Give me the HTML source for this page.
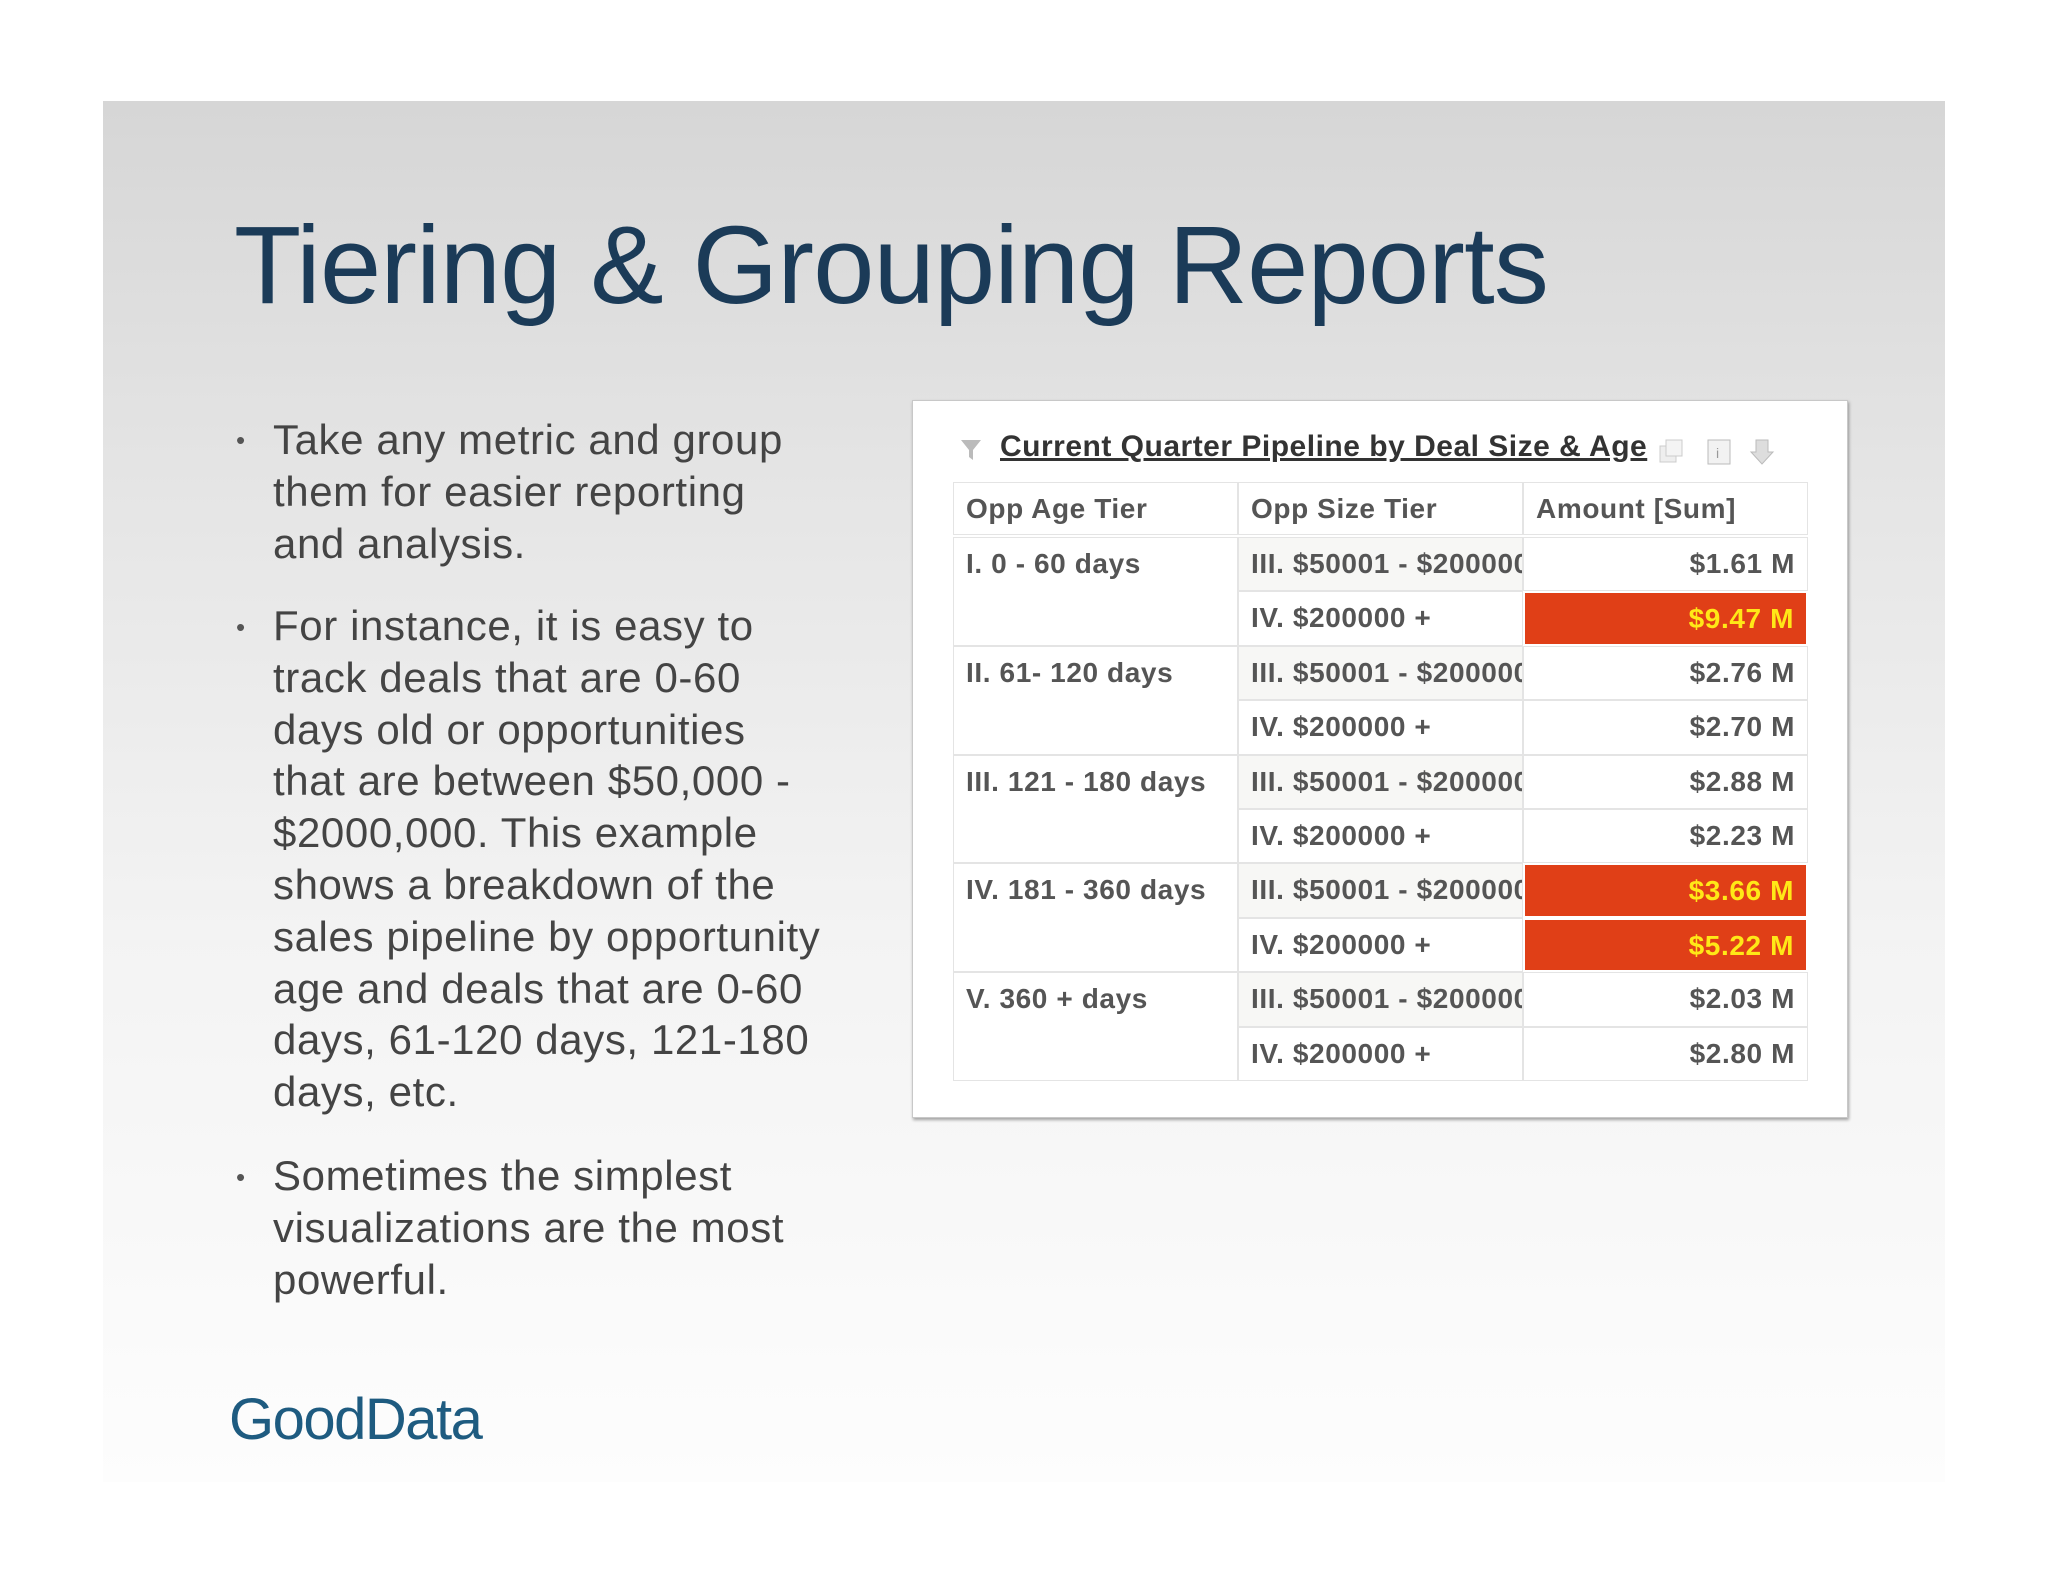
<!DOCTYPE html>
<html><head><meta charset="utf-8"><style>
body{margin:0;width:2048px;height:1582px;background:#fff;position:relative;overflow:hidden;font-family:"Liberation Sans",sans-serif}
#panel{position:absolute;left:103px;top:101px;width:1842px;height:1381px;background:linear-gradient(#d6d6d6 0%,#e6e6e6 30%,#f3f3f3 60%,#fdfdfd 100%)}
#title{position:absolute;left:234px;top:202px;font-size:110px;color:#1b3b58;white-space:nowrap;letter-spacing:-0.8px}
.bl{position:absolute;left:273px;font-size:42px;line-height:51.8px;color:#444;white-space:nowrap;letter-spacing:0.6px}
.dot{position:absolute;left:236px;font-size:26px;color:#555}
#card{position:absolute;left:912px;top:400px;width:934px;height:716px;background:#fff;border:1px solid #c8c8c8;box-shadow:1px 2px 3px rgba(0,0,0,.35)}
#rtitle{position:absolute;left:1000px;top:430px;font-size:30px;letter-spacing:0.5px;color:#333;text-decoration:underline;white-space:nowrap;font-weight:bold}
.cell{position:absolute;box-sizing:border-box;border:1px solid #e4e4e4;font-size:28px;letter-spacing:0.6px;font-weight:bold;color:#555;overflow:hidden;white-space:nowrap;padding:10px 12px 0 12px}
#logo{position:absolute;left:229px;top:1386px;font-size:58px;color:#1e5b80;letter-spacing:-1.5px}
</style></head><body>
<div id="panel"></div>
<div id="title">Tiering &amp; Grouping Reports</div>

<div class="dot" style="top:425px">•</div>
<div class="bl" style="top:414px">Take any metric and group<br>them for easier reporting<br>and analysis.</div>
<div class="dot" style="top:612px">•</div>
<div class="bl" style="top:600px">For instance, it is easy to<br>track deals that are 0-60<br>days old or opportunities<br>that are between $50,000 -<br>$2000,000. This example<br>shows a breakdown of the<br>sales pipeline by opportunity<br>age and deals that are 0-60<br>days, 61-120 days, 121-180<br>days, etc.</div>
<div class="dot" style="top:1162px">•</div>
<div class="bl" style="top:1150px">Sometimes the simplest<br>visualizations are the most<br>powerful.</div>

<div id="card"></div>
<svg style="position:absolute;left:960px;top:438px" width="22" height="24"><path d="M1 2h20l-8 10v10l-4-3v-7z" fill="#bbb"/></svg>
<div id="rtitle">Current Quarter Pipeline by Deal Size &amp; Age</div>
<svg style="position:absolute;left:1658px;top:436px" width="120" height="32">
<rect x="2" y="10" width="16" height="16" fill="#eee" stroke="#ccc"/><rect x="8" y="4" width="16" height="16" fill="#f4f4f4" stroke="#ccc"/>
<rect x="50" y="4" width="22" height="24" fill="#f2f2f2" stroke="#bbb"/><text x="58" y="22" font-size="14" fill="#999">i</text>
<path d="M98 4h12v12h5l-11 12-11-12h5z" fill="#ddd" stroke="#bbb"/></svg>

<div id="tbl"></div>
<div id="logo">GoodData</div>
<script>
const ageTiers=["I. 0 - 60 days","II. 61- 120 days","III. 121 - 180 days","IV. 181 - 360 days","V. 360 + days"];
const sizeTiers=["III. $50001 - $200000","IV. $200000 +"];
const amounts=[1.61,9.47,2.76,2.70,2.88,2.23,3.66,5.22,2.03,2.80];
const highlight=[false,true,false,false,false,false,true,true,false,false];
const headers=["Opp Age Tier","Opp Size Tier","Amount [Sum]"];
const T=document.getElementById('tbl');
const colX=[953,1238,1523,1808], top0=482, hH=53, rH=54.4;
function cell(x,y,w,h,txt,name,extra){
  const d=document.createElement('div');
  d.className='cell';
  d.style.cssText=`left:${x}px;top:${y}px;width:${w}px;height:${h}px;`+(extra||'');
  d.textContent=txt;
  
  
  T.appendChild(d);return d;
}
headers.forEach((h,i)=>cell(colX[i],top0,colX[i+1]-colX[i],hH,h,'column-header'));
const body0=top0+hH+2;
ageTiers.forEach((a,g)=>{
  cell(colX[0],body0+g*2*rH,colX[1]-colX[0],2*rH,a,'age-tier-cell');
});
amounts.forEach((v,r)=>{
  const y=body0+r*rH;
  const sz=sizeTiers[r%2];
  cell(colX[1],y,colX[2]-colX[1],rH,sz,'size-tier-cell',(r%2===0?'background:#f7f7f5;':'')+'padding-right:0;');
  const hi=highlight[r];
  cell(colX[2],y,colX[3]-colX[2],rH,'$'+v.toFixed(2)+' M','amount-cell',
    'text-align:right;'+(hi?'background:#e03f17;color:#ffe817;border:2px solid #fff;':''));
});
</script>
</body></html>
